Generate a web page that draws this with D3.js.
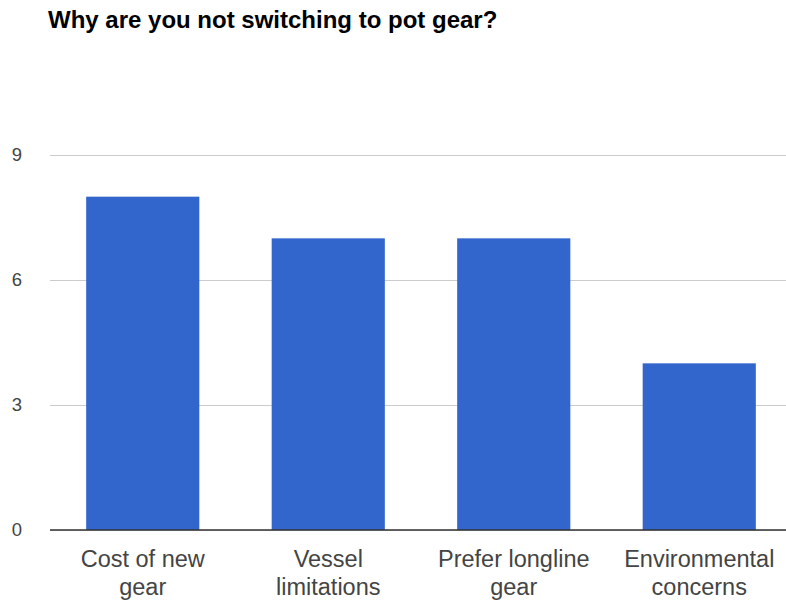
<!DOCTYPE html>
<html>
<head>
<meta charset="utf-8">
<script src="https://cdn.jsdelivr.net/npm/d3@7"></script>
<style>
  html, body { margin: 0; padding: 0; background: #fff; }
  svg { display: block; font-family: Arial, "Liberation Sans", Helvetica, sans-serif; }
</style>
</head>
<body>
<svg id="chart" width="786" height="602"></svg>
<script>
// Survey responses: reasons for not switching to pot gear
const title = "Why are you not switching to pot gear?";
const categories = ["Cost of new gear", "Vessel limitations", "Prefer longline gear", "Environmental concerns"];
const counts = [8, 7, 7, 4];
const yTicks = [0, 3, 6, 9];

const svg = d3.select("#chart");
const W = 786, H = 602;
const margin = { left: 50, right: -6, top: 155, bottom: 72 };

const x = d3.scaleBand()
  .domain(categories)
  .range([margin.left, W - margin.right])
  .paddingInner(0.39)
  .paddingOuter(0.195);

const y = d3.scaleLinear()
  .domain([0, 9])
  .range([H - margin.bottom, margin.top]);

// Title
svg.append("text")
  .attr("x", 48)
  .attr("y", 28)
  .attr("font-size", 24)
  .attr("font-weight", "bold")
  .attr("fill", "#000")
  .text(title);

// Horizontal gridlines and value labels
const yAxis = svg.append("g")
  .attr("transform", `translate(${margin.left},0)`)
  .call(d3.axisLeft(y).tickValues(yTicks).tickSize(-(W - margin.left)).tickPadding(28).tickFormat(d3.format("d")));
yAxis.select(".domain").remove();
yAxis.selectAll(".tick line").attr("stroke", "#cccccc").attr("stroke-width", 1);
yAxis.selectAll(".tick text")
  .attr("font-size", 18.5)
  .attr("fill", "#444")
  .attr("font-family", "Arial, 'Liberation Sans', sans-serif");

// Bars
svg.append("g")
  .selectAll("rect")
  .data(counts)
  .join("rect")
  .attr("x", (d, i) => x(categories[i]))
  .attr("y", d => y(d))
  .attr("width", x.bandwidth())
  .attr("height", d => y(0) - y(d))
  .attr("fill", "#3366cc");

// Baseline
svg.append("line")
  .attr("x1", margin.left)
  .attr("x2", W)
  .attr("y1", y(0))
  .attr("y2", y(0))
  .attr("stroke", "#333")
  .attr("stroke-width", 1.5);

// Category labels, wrapped onto two lines
const xAxis = svg.append("g")
  .attr("transform", `translate(0,${y(0)})`)
  .call(d3.axisBottom(x).tickSize(0).tickPadding(0));
xAxis.select(".domain").remove();
xAxis.selectAll(".tick text")
  .attr("font-size", 23.5)
  .attr("fill", "#444")
  .attr("font-family", "Arial, 'Liberation Sans', sans-serif")
  .each(function (d) {
    const t = d3.select(this);
    const words = d.split(" ");
    t.text(null).attr("dy", null).attr("y", null);
    const maxW = 170;
    let lines = [], cur = [];
    const probe = t.append("tspan");
    words.forEach(w => {
      const trial = cur.concat(w).join(" ");
      probe.text(trial);
      if (probe.node().getComputedTextLength() > maxW && cur.length) {
        lines.push(cur.join(" "));
        cur = [w];
      } else {
        cur.push(w);
      }
    });
    lines.push(cur.join(" "));
    probe.remove();
    lines.forEach((ln, k) => {
      t.append("tspan").attr("x", 0).attr("y", 37 + k * 28).text(ln);
    });
  });
</script>
</body>
</html>
